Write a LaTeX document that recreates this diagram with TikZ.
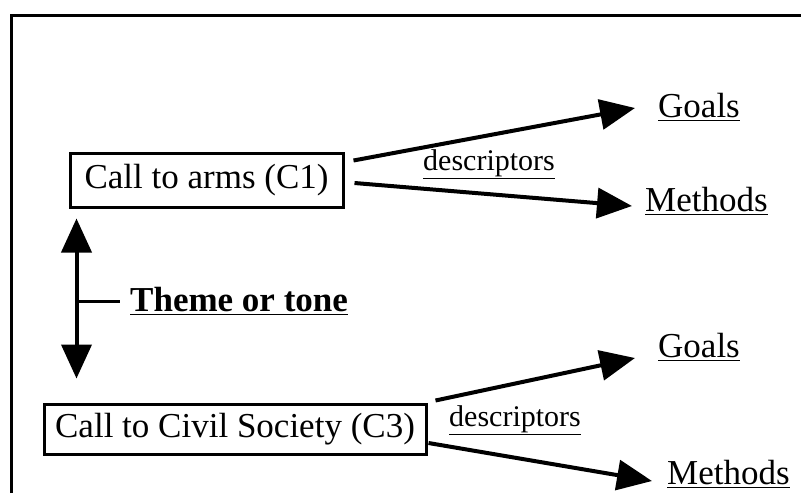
\documentclass[tikz,border=0pt]{standalone}
\usepackage{fontspec}
\setmainfont{Liberation Serif}
\usetikzlibrary{arrows.meta,calc}

\tikzset{
  frame/.style={line width=3pt},
  callbox/.style={draw, line width=3pt, inner sep=0pt, font=\fontsize{35}{38}\selectfont},
  label/.style={inner sep=0pt, anchor=west},
  bigtext/.style={label, font=\fontsize{35}{38}\selectfont},
  smalltext/.style={label, font=\fontsize{30}{33}\selectfont},
  thicktext/.style={label, font=\fontsize{35}{38}\selectfont\bfseries},
  flow/.style={line width=4pt, -{Triangle[length=35pt,width=30pt]}},
  twoway/.style={line width=4pt, {Triangle[length=34pt,width=30pt]}-{Triangle[length=34pt,width=30pt]}},
  tick/.style={line width=3pt}
}

\begin{document}
\begin{tikzpicture}[x=1pt,y=-1pt]
\useasboundingbox (0,0) rectangle (801,493);

% open frame: left and top edges only
\draw[frame] (11,493) -- (11,15) -- (801,15);

% the two calls
\node[callbox, minimum width=273pt, minimum height=54pt] (c1) at (206.5,180) {Call to arms (C1)};
\node[callbox, minimum width=382pt, minimum height=50pt] (c3) at (235,429) {Call to Civil Society (C3)};

% descriptors of the first call
\node[bigtext] (g1) at (658,107) {\underline{Goals}};
\node[bigtext] (m1) at (645,201) {\underline{Methods}};
\node[smalltext] (d1) at (423,164) {\underline{descriptors}};

% descriptors of the third call
\node[bigtext] (g3) at (658,347) {\underline{Goals}};
\node[bigtext] (m3) at (667,474) {\underline{Methods}};
\node[smalltext] (d3) at (449,420) {\underline{descriptors}};

% theme linking the calls
\node[thicktext] (th) at (130,301) {\underline{Theme or tone}};

\draw[flow] ($(c1.north east)+(9,9)$) -- ($(g1.west)+(-23,1)$);
\draw[flow] ($(c1.east)+(10,3)$) -- ($(m1.west)+(-13,5)$);
\draw[flow] ($(c3.north east)+(8,-2)$) -- ($(g3.west)+(-23,11)$);
\draw[flow] ($(c3.east)+(1,14)$) -- ($(m3.west)+(-15,7)$);

\coordinate (up) at ($(c1.south west)+(8,10)$);
\coordinate (dn) at ($(c3.north west)+(34,-24)$);
\draw[twoway] (up) -- (dn);
\coordinate (mid) at (up |- th.west);
\draw[tick] (mid) -- ($(th.west)+(-10,0)$);
\end{tikzpicture}
\end{document}
